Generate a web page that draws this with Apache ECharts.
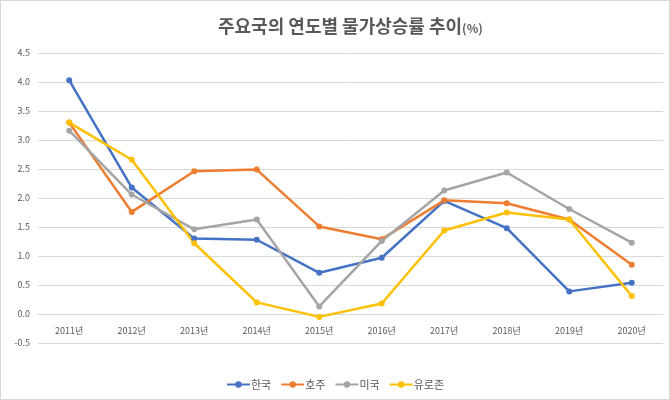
<!DOCTYPE html>
<html><head><meta charset="utf-8">
<script src="https://cdn.jsdelivr.net/npm/echarts@6/dist/echarts.min.js"></script>
<style>html,body{margin:0;padding:0;background:#fff}#c{width:668px;height:398px;border:1px solid #d9d9d9}</style>
</head><body><div id="c"></div>
<script>
const categories = ['2011년','2012년','2013년','2014년','2015년','2016년','2017년','2018년','2019년','2020년'];
const korea = [4.03, 2.18, 1.30, 1.28, 0.71, 0.97, 1.95, 1.48, 0.39, 0.54];
const australia = [3.30, 1.76, 2.46, 2.49, 1.51, 1.29, 1.96, 1.91, 1.63, 0.85];
const usa = [3.16, 2.06, 1.46, 1.63, 0.13, 1.26, 2.13, 2.44, 1.81, 1.23];
const eurozone = [3.30, 2.66, 1.22, 0.20, -0.05, 0.18, 1.44, 1.75, 1.63, 0.31];
const yTicks = [-0.5, 0, 0.5, 1, 1.5, 2, 2.5, 3, 3.5, 4, 4.5];
const seriesNames = ['한국','호주','미국','유로존'];
const colors = ['#4472C4','#ED7D31','#A5A5A5','#FFC000'];
const font = '"Noto Sans CJK KR", "Noto Sans", sans-serif';
const chart = echarts.init(document.getElementById('c'));
const mk = (name, data, i) => ({
  name, type:'line', data, symbol:'circle', symbolSize:6,
  lineStyle:{width:2.5, color:colors[i]}, itemStyle:{color:colors[i]}
});
chart.setOption({
  animation:false,
  textStyle:{fontFamily:font},
  title:{
    text:'{a|주요국의 연도별 물가상승률 추이}{b|(%)}',
    left:212, top:11,
    textStyle:{rich:{
      a:{fontSize:18, fontWeight:'bold', color:'#595959', fontFamily:font},
      b:{fontSize:12, color:'#595959', fontFamily:font, padding:[5,0,0,0]}
    }}
  },
  legend:{
    bottom:4, left:'center', itemWidth:23, itemHeight:8, itemGap:9,
    textStyle:{fontSize:11, color:'#595959', fontFamily:font, padding:[0,0,0,-4]},
    data:seriesNames
  },
  grid:{left:37, right:6, top:52, bottom:56},
  xAxis:{
    type:'category', data:categories, boundaryGap:true,
    axisLine:{show:true, onZero:false, lineStyle:{color:'#d9d9d9'}},
    offset:-29,
    axisTick:{show:false},
    axisLabel:{fontSize:9, color:'#595959', margin:12, fontFamily:font}
  },
  yAxis:{
    type:'value', min:yTicks[0], max:yTicks[yTicks.length-1], interval:0.5,
    axisLine:{show:false}, axisTick:{show:false},
    splitLine:{lineStyle:{color:'#d9d9d9'}},
    axisLabel:{fontSize:9, color:'#595959', formatter:v=>v.toFixed(1), margin:8, fontFamily:font}
  },
  series:[mk(seriesNames[0],korea,0), mk(seriesNames[1],australia,1), mk(seriesNames[2],usa,2), mk(seriesNames[3],eurozone,3)]
});
</script></body></html>
